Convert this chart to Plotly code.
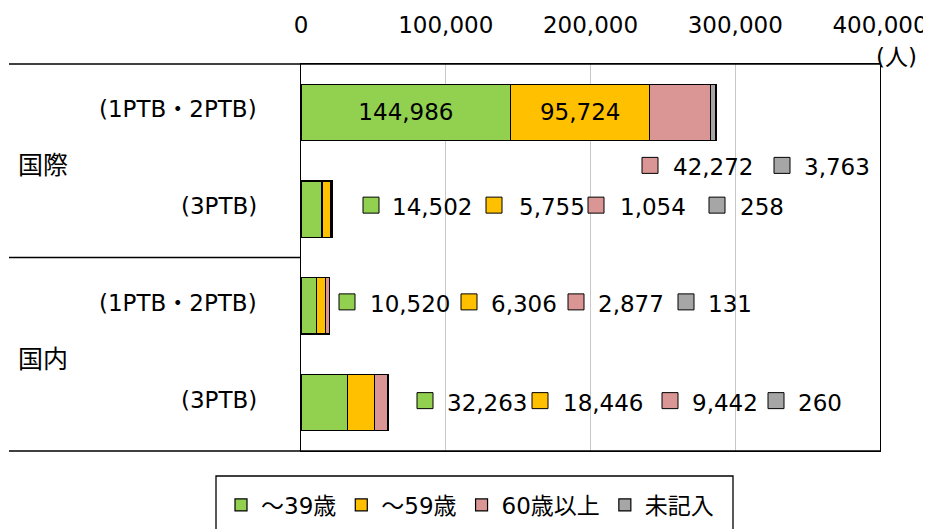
import plotly.graph_objects as go

# ---------------- data ----------------
groups = ["国際", "国内"]
sub_labels = ["(1PTB・2PTB)", "(3PTB)", "(1PTB・2PTB)", "(3PTB)"]
categories = ["国際 1PTB・2PTB", "国際 3PTB", "国内 1PTB・2PTB", "国内 3PTB"]
series_names = ["～39歳", "～59歳", "60歳以上", "未記入"]
under39 = [144986, 14502, 10520, 32263]
under59 = [95724, 5755, 6306, 18446]
over60 = [42272, 1054, 2877, 9442]
unknown = [3763, 258, 131, 260]
tick_values = [0, 100000, 200000, 300000, 400000]
unit_label = "(人)"

series_values = [under39, under59, over60, unknown]
colors = ["#92D050", "#FFC000", "#DA9694", "#A6A6A6"]

# ---------------- layout helpers (screen-pixel positions) ----------------
L, R, T, B = 301, 880, 64, 451   # plot area on screen
W, H = 931, 529
PAGE_OFF = 8                      # default page body margin
XMAX = 400000
FONT = "DejaVu Sans, Noto Sans CJK JP, sans-serif"
FS = 23

def px_to_x(px):
    return (px - L) / (R - L) * XMAX

def px_to_paper(px):
    return (px - L) / (R - L)

def py_to_paper(py):
    return (B - py) / (B - T)

# which values are printed inside the bar (row 0, first two series)
inside = [[True, False, False, False], [True, False, False, False],
          [False, False, False, False], [False, False, False, False]]

# square centre / text left positions (pixels) for the outside value labels
sq_x = [[None, 371, 347, 425], [None, 494, 469, 540],
        [650, 596, 576, 670], [782, 717, 686, 776]]
txt_x = [[None, 390, 368, 445], [None, 517, 489, 561],
         [671, 618, 596, 690], [802, 738, 706, 796]]
row_dy = [57, 0, 0, 2]  # text centre offset below row centre (px)

fig = go.Figure()
for s, (name, vals, col) in enumerate(zip(series_names, series_values, colors)):
    texts = [f"{v:,}" if inside[s][i] else "" for i, v in enumerate(vals)]
    fig.add_trace(go.Bar(
        y=categories, x=vals, name=name, orientation="h",
        marker=dict(color=col, line=dict(color="black", width=1.2)),
        text=texts, textposition="inside", insidetextanchor="middle",
        textangle=0, constraintext="none",
        insidetextfont=dict(family=FONT, size=FS, color="black"),
        hoverinfo="skip",
    ))

shapes = []
annotations = []

# outside value labels with coloured squares
for s, vals in enumerate(series_values):
    for i, v in enumerate(vals):
        if inside[s][i] or sq_x[s][i] is None:
            continue
        dy = row_dy[i]
        shapes.append(dict(
            type="rect", xref="x", yref="y",
            xsizemode="pixel", ysizemode="pixel",
            xanchor=px_to_x(sq_x[s][i]), yanchor=i,
            x0=-8, x1=8, y0=-dy + 4 - 8, y1=-dy + 4 + 8,
            fillcolor=colors[s], line=dict(color="black", width=1),
            layer="above",
        ))
        annotations.append(dict(
            x=px_to_x(txt_x[s][i]), y=i, xref="x", yref="y",
            xanchor="left", yanchor="middle", yshift=-dy + 2,
            text=f"{v:,}", showarrow=False,
            font=dict(family=FONT, size=FS, color="black"),
        ))

# category labels
for i, lab in enumerate(sub_labels):
    annotations.append(dict(
        x=px_to_paper(259), y=i, xref="paper", yref="y",
        xanchor="right", yanchor="middle", yshift=3,
        text=lab, showarrow=False,
        font=dict(family=FONT, size=FS, color="black"),
    ))
for g, lab in enumerate(groups):
    annotations.append(dict(
        x=px_to_paper(16), y=2 * g + 0.5, xref="paper", yref="y",
        xanchor="left", yanchor="middle", yshift=-5,
        text=lab, showarrow=False,
        font=dict(family=FONT, size=25, color="black"),
    ))

# unit label
annotations.append(dict(
    x=px_to_paper(874), y=py_to_paper(57), xref="paper", yref="paper",
    xanchor="left", yanchor="middle",
    text=unit_label, showarrow=False,
    font=dict(family=FONT, size=FS, color="black"),
))

# table-like separator lines on the left
left_edge = px_to_paper(9)
shapes.append(dict(type="line", xref="paper", yref="paper", x0=left_edge, x1=1,
                   y0=1, y1=1, line=dict(color="black", width=1.3)))
shapes.append(dict(type="line", xref="paper", yref="paper", x0=left_edge, x1=1,
                   y0=0, y1=0, line=dict(color="black", width=1.3)))
shapes.append(dict(type="line", xref="paper", yref="y", x0=left_edge, x1=0,
                   y0=1.5, y1=1.5, line=dict(color="black", width=1.3)))

# legend frame
shapes.append(dict(type="rect", xref="paper", yref="paper",
                   x0=px_to_paper(216), x1=px_to_paper(733),
                   y0=py_to_paper(560), y1=py_to_paper(476),
                   line=dict(color="black", width=1.3), fillcolor="rgba(0,0,0,0)"))

fig.update_layout(
    barmode="stack",
    bargap=0.42,
    width=W, height=H,
    margin=dict(l=L - PAGE_OFF, r=W - R + PAGE_OFF, t=T - PAGE_OFF,
                b=H - B + PAGE_OFF, pad=0, autoexpand=False),
    paper_bgcolor="white", plot_bgcolor="white",
    font=dict(family=FONT, size=FS, color="black"),
    showlegend=True,
    legend=dict(
        orientation="h", x=px_to_paper(221), xanchor="left",
        y=py_to_paper(505), yanchor="middle",
        font=dict(family=FONT, size=FS, color="black"),
        bgcolor="rgba(0,0,0,0)", borderwidth=0, traceorder="normal",
        itemclick=False, itemdoubleclick=False,
    ),
    xaxis=dict(
        side="top", range=[0, XMAX], tickvals=tick_values,
        tickformat=",d", showgrid=True, gridcolor="#C8C8C8", gridwidth=1,
        zeroline=False, showline=True, linecolor="black", linewidth=1.3,
        mirror=True, ticks="", ticklabelstandoff=21, automargin=False,
        tickfont=dict(family=FONT, size=FS, color="black"),
        fixedrange=True,
    ),
    yaxis=dict(
        type="category", categoryorder="array", categoryarray=categories,
        range=[len(categories) - 0.5, -0.5], autorange=False,
        showticklabels=False, ticks="",
        showgrid=False, zeroline=False, automargin=False,
        showline=True, linecolor="black", linewidth=1.3, mirror=True,
        fixedrange=True,
    ),
    shapes=shapes,
    annotations=annotations,
)

fig.write_html("out.html")
